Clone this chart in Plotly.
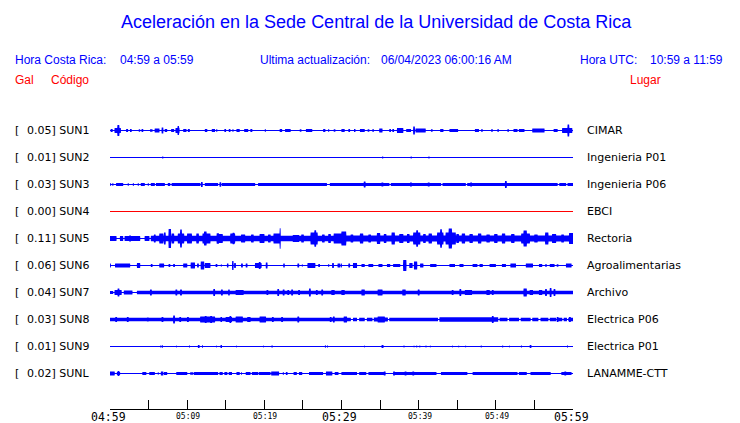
import numpy as np
import plotly.graph_objects as go

# ---------------- data ----------------
STATIONS = ["SUN1", "SUN2", "SUN3", "SUN4", "SUN5", "SUN6", "SUN7", "SUN8", "SUN9", "SUNL"]
PEAK_GAL = ["0.05", "0.01", "0.03", "0.00", "0.11", "0.06", "0.04", "0.03", "0.01", "0.02"]
PLACES = ["CIMAR", "Ingenieria P01", "Ingenieria P06", "EBCI", "Rectoria",
          "Agroalimentarias", "Archivo", "Electrica P06", "Electrica P01", "LANAMME-CTT"]
TICK_MINUTES = [0, 10, 20, 30, 40, 50, 60]
TICK_LABELS = ["04:59", "05:09", "05:19", "05:29", "05:39", "05:49", "05:59"]
MAJOR_LABEL = [True, False, False, True, False, False, True]
MINUTE_TICKS = [0, 5, 10, 15, 20, 25, 30, 35, 40, 45, 50, 55, 60]

# trace envelopes: baseline half-amplitude and (start min, end min, half-amplitude) bursts
BASE = [0.5, 0.5, 0.5, 0.5, 0.5, 0.5, 0.5, 0.5, 0.5, 0.5]

SUN1 = [(0.1,0.35,1.5),(0.6,1.4,2.5),(0.95,1.2,5.5),(2.1,2.35,1.5),(2.6,2.8,1.5),(3.7,3.9,1.2),
        (4.1,4.3,1.5),(5.2,5.5,1.2),(5.8,6.4,2),(6.7,6.9,3),(7.1,7.4,1.5),(7.9,8.3,1.5),(8.5,9.0,2.5),
        (8.75,8.95,4.5),(9.5,9.9,1.5),(10.1,10.35,1.5),(12.3,12.6,1.5),(13.2,13.6,1.5),(13.75,13.9,1.2),
        (14.8,15.05,1.5),(15.4,15.6,1.5),(15.85,16.0,1.2),(16.4,16.8,1.5),(17.4,17.9,1.5),(18.2,18.45,1.5),
        (20.05,20.2,1.2),(22.0,22.3,1.5),(22.7,23.4,1.5),(24.6,24.8,1.2),(25.4,26.2,1.5),(27.6,27.9,1.5),
        (28.25,28.4,1.2),(29.0,29.2,1.2),(30.0,30.4,1.5),(30.9,31.1,1.5),(31.6,31.8,1.5),(32.4,33.0,1.5),
        (33.4,33.6,1.2),(34.0,34.2,1.2),(34.9,35.3,2),(36.2,36.4,1.5),(36.6,36.8,1.5),(37.2,38.0,2.5),
        (38.4,39.0,1.5),(39.3,39.5,4),(39.6,40.9,2),(41.6,41.8,1.2),(42.8,43.2,1.5),(44.0,45.1,1.5),
        (47.3,47.8,1.5),(48.1,48.3,1.2),(49.4,49.6,1.2),(50.2,50.4,1.2),(51.5,51.7,1.2),(52.3,52.8,1.5),
        (53.0,53.7,1.5),(54.7,56.3,2),(57.5,58.0,1.5),(58.6,59.9,2.5),(59.3,59.5,6)]
SUN2 = [(6.75,6.9,1),(35.25,35.4,1),(38.95,39.1,1),(41.25,41.4,1)]
SUN3 = [(0.0,0.15,1.2),(0.3,0.45,1.2),(0.8,1.7,1.5),(2.3,2.45,1.2),(2.95,3.1,1.2),(3.6,3.75,1.2),
        (4.0,4.5,1.5),(4.9,5.05,1.2),(5.3,5.8,1.5),(5.95,7.1,1.5),(7.5,7.8,1.5),(8.0,11.7,1.5),
        (11.8,12.0,2.5),(12.3,14.0,1.5),(14.2,14.4,2.2),(14.5,18.8,1.5),(19.2,28.1,1.5),(28.5,36.2,1.5),
        (32.9,33.1,3),(35.2,35.4,2),(36.4,42.9,1.5),(38.9,39.1,2),(41.2,41.4,2),(43.1,46.1,1.5),
        (46.3,58.0,1.5),(46.7,46.9,2),(51.2,51.4,3.5),(58.2,59.1,1.5),(59.3,60.0,1.5)]
SUN4 = []
SUN5 = [(0.0,0.85,2.4),(1.3,1.7,2.4),(1.9,3.9,2.4),(4.5,5.1,2.4),(5.3,30.0,2.7),(30.0,60.0,3.1),
        (2.5,2.7,3),(5.7,5.9,4),(6.4,6.9,5),(7.0,7.2,6),(7.6,7.9,9.5),(8.0,8.3,5),(8.8,9.6,5),(9.1,9.3,9),
        (10.0,10.6,5),(11.2,11.5,5),(12.0,13.0,5),(12.2,12.5,7),(13.8,14.1,5.3),(14.0,14.6,4.5),
        (15.6,16.2,5),(15.9,16.1,5.7),(17.0,17.5,4),(18.3,18.6,4),(19.4,20.0,4.5),(20.5,20.8,4),
        (21.2,22.0,5),(22.0,22.1,10.3),(23.7,24.5,3.5),(24.8,25.1,4),(26.0,26.9,6),(26.5,26.7,8.3),
        (27.5,27.8,4),(28.3,28.6,4.5),(29.0,30.0,5),(30.0,30.6,7),(31.2,31.5,4),(32.4,32.8,5),
        (33.5,33.8,4),(34.6,35.0,5.5),(35.5,35.8,4.5),(36.5,36.9,6),(37.5,38.0,4.5),(38.5,38.8,4.5),
        (39.3,40.2,6),(39.7,39.9,8.3),(40.6,40.9,4.5),(41.3,41.7,5),(42.4,43.2,6),(42.8,43.0,9.2),
        (43.5,44.8,6),(43.9,44.3,10),(44.9,45.2,4.5),(45.6,46.0,5),(46.6,47.0,4.5),(47.7,48.1,5),
        (48.8,49.2,4),(49.8,50.2,4.5),(50.8,51.2,5),(52.0,52.4,4.5),(53.3,54.4,5),(53.6,54.0,8),
        (55.0,55.4,4),(56.4,56.8,6),(57.3,57.8,4.5),(58.5,58.8,4),(59.5,60.0,5.5)]
SUN6 = [(0.0,0.1,2),(0.65,2.6,2),(3.5,3.9,2.5),(5.3,5.5,1.5),(6.4,7.0,2),(7.6,7.8,1.5),(8.2,8.4,1.5),
        (9.5,10.0,2),(10.45,11.0,3),(11.3,11.5,2),(11.75,12.2,4),(12.3,13.0,2.5),(13.7,13.9,1.5),
        (14.35,14.5,1),(15.15,15.35,2),(15.8,16.0,4.5),(16.1,16.3,2.5),(17.0,17.2,2),(17.6,17.8,2),
        (18.8,19.65,2.5),(19.3,19.5,3.5),(20.2,20.4,3),(22.45,22.65,2),(24.3,24.5,2),(24.85,25.0,1),
        (25.6,26.6,2.5),(27.0,27.2,1.5),(28.25,28.4,1.2),(28.8,29.0,2.5),(29.5,29.8,2),(29.9,30.05,2),
        (30.9,31.1,2),(31.5,32.0,2.5),(32.6,33.0,1.5),(33.5,34.1,1.5),(34.8,35.3,1.5),(35.9,36.3,1.5),
        (36.7,37.6,1.5),(38.0,38.4,5.5),(38.8,39.2,2.5),(39.4,39.8,4),(40.2,40.6,2),(41.5,42.3,1.5),
        (44.0,44.7,1.5),(45.3,45.8,1.5),(47.0,47.6,1.5),(47.9,48.3,1.5),(49.2,50.0,1.5),(50.8,51.3,1.5),
        (51.9,52.6,2),(53.9,54.8,2),(55.6,56.0,1.5),(56.4,56.6,1.2),(57.0,57.6,1.5),(57.9,58.1,1.2),
        (59.1,59.8,2)]
SUN7 = [(0.0,0.4,1.5),(0.6,1.5,2.5),(1.0,1.2,4),(1.8,2.9,2),(3.5,60.0,1.8),(5.2,5.4,3),(8.5,8.7,3),
        (9.1,9.3,3),(13.4,13.6,3.5),(14.4,14.6,3),(15.3,15.5,3),(16.3,17.3,2.5),(20.3,20.5,2.5),
        (21.7,21.9,3.5),(22.4,22.6,3),(23.0,23.2,2.5),(23.5,23.7,3),(24.4,24.6,2.5),(25.8,26.0,4),
        (26.7,26.9,2.5),(27.4,27.6,3),(28.7,29.1,2.5),(30.0,30.4,2.5),(32.6,33.0,3),(34.7,35.3,3),
        (37.9,38.3,3),(39.9,40.1,3),(44.3,44.5,2.5),(45.3,45.5,3.5),(46.0,46.9,2.5),(48.8,49.2,2.5),
        (49.5,49.7,2.5),(53.6,54.0,4),(54.4,54.8,2.5),(55.6,56.0,2.5),(56.4,56.6,3.5),(57.0,57.2,4.5),
        (57.5,57.7,3.5)]
SUN8 = [(0.0,30.0,1.7),(0.7,0.9,2.5),(2.2,2.4,2.5),(4.8,5.0,2),(6.7,6.9,2.5),(8.2,8.4,4),(9.0,9.2,2.5),
        (10.0,10.2,2.5),(11.7,13.6,3),(12.3,12.5,3.5),(13.0,13.2,3.5),(14.3,14.5,2.5),(15.0,15.8,2.5),
        (15.5,15.7,3.5),(16.3,17.2,3),(17.8,18.2,2.5),(19.4,20.2,3),(21.0,21.2,2.5),(22.2,22.4,2.5),
        (24.3,24.5,3),(28.5,28.7,2.5),(28.9,29.1,3),(30.0,31.2,1.8),(30.3,30.7,3),(31.5,32.0,1.8),
        (32.3,33.0,1.8),(33.3,34.0,1.8),(34.2,36.0,2),(34.7,35.6,3),(36.2,42.5,1.8),(42.7,50.3,2.3),
        (49.5,49.7,3.5),(50.5,51.5,1.8),(51.7,53.0,1.8),(53.2,54.5,1.8),(54.7,55.5,1.8),(55.8,56.8,1.8),
        (57.0,57.8,1.8),(57.9,58.1,2.5),(58.0,58.6,1.8),(58.8,59.2,1.8),(59.4,60.0,1.8),(59.5,59.7,2.5)]
SUN9 = [(6.55,6.65,1.5),(6.75,6.85,1.5),(8.55,8.65,1),(10.25,10.35,1.2),(11.4,11.6,1.5),(11.95,12.05,1.5),
        (13.75,13.85,1),(14.3,14.5,1.5),(16.35,16.45,1),(19.85,19.95,1),(20.95,21.05,1.5),(27.85,27.95,1.5),
        (28.15,28.25,1.2),(32.95,33.05,1),(35.2,35.45,1.5),(38.05,38.15,1.2),(39.35,39.45,1),(39.7,39.8,1),
        (40.1,40.2,1),(40.9,41.0,1),(41.45,41.55,1),(44.35,44.45,1),(45.15,45.25,1),(46.05,46.15,1),
        (48.05,48.15,1.2),(50.85,50.95,1.2),(51.75,51.85,1),(53.25,53.35,1.2),(54.4,54.6,1.5),
        (59.25,59.35,1.2)]
SUNL = [(0.0,0.6,2),(0.9,1.3,1.5),(1.0,1.2,2.5),(4.2,4.7,1.5),(5.1,5.8,1.5),(6.2,6.3,1.2),(6.6,6.9,2),
        (7.0,7.4,1.5),(8.6,10.0,1.5),(10.4,10.8,1.2),(10.9,14.0,1.5),(14.2,14.6,1.5),(14.8,15.2,1.5),
        (15.4,15.8,1.5),(16.4,16.8,1.5),(17.0,17.1,1.2),(17.6,18.2,1.5),(18.4,19.2,1.5),(19.3,20.8,1.5),
        (20.9,21.9,2),(22.4,22.55,1.2),(22.8,23.0,1.5),(23.8,24.2,1.5),(24.5,24.9,1.5),(25.8,27.6,1.5),
        (28.0,28.8,2),(29.1,29.6,1.5),(30.0,32.0,1.5),(32.3,33.2,1.5),(33.5,35.6,1.5),(35.5,35.7,2),
        (36.7,42.3,1.5),(36.7,36.9,2),(38.2,38.4,2),(39.2,39.4,2),(42.9,46.3,1.5),(47.0,52.8,1.5),
        (53.0,54.0,1.5),(54.5,57.1,1.5),(58.5,59.8,1.5),(58.9,59.1,2)]
BURSTS = [SUN1, SUN2, SUN3, SUN4, SUN5, SUN6, SUN7, SUN8, SUN9, SUNL]

# ---------------- layout geometry (pixels) ----------------
W, H = 740, 423
L, R, T, B = 110, 573, 117, 409
PW, PH = R - L, B - T
ROW0, ROW_STEP = 130.5, 27
BLUE, RED = "#0000ff", "#ff0000"
TRACE_COLORS = [BLUE, BLUE, BLUE, RED, BLUE, BLUE, BLUE, BLUE, BLUE, BLUE]


def px(x, y):
    return (x - L) / PW, (B - y) / PH


fig = go.Figure()
t = np.linspace(0, 60, 1801)
for i, name in enumerate(STATIONS):
    c = B - (ROW0 + ROW_STEP * i)
    # thin baseline
    fig.add_trace(go.Scatter(x=[0, 60], y=[c, c], mode="lines",
                             line=dict(color=TRACE_COLORS[i], width=1),
                             hoverinfo="skip", showlegend=False))
    if not BURSTS[i]:
        continue
    env = np.full_like(t, BASE[i])
    for a, b, amp in BURSTS[i]:
        m = (t >= a) & (t <= b)
        env[m] = np.maximum(env[m], amp)
    env = np.where(env > BASE[i], env, 0.0)
    xs = np.concatenate([t, t[::-1]])
    ys = np.concatenate([c + env, (c - env)[::-1]])
    fig.add_trace(go.Scatter(x=xs, y=ys, mode="none", fill="toself",
                             fillcolor=TRACE_COLORS[i],
                             hoverinfo="skip", showlegend=False, name=name))

ann = []


def text(x, y, s, size, color, family, anchor="left"):
    xp, yp = px(x, y)
    ann.append(dict(x=xp, y=yp, xref="paper", yref="paper", text=s, showarrow=False,
                    xanchor=anchor, yanchor="middle", borderpad=0,
                    font=dict(size=size, color=color, family=family)))


SANS = "Liberation Sans, Arial, sans-serif"
DV = "DejaVu Sans, sans-serif"
MONO = "DejaVu Sans Mono, monospace"

text(376, 22, "Aceleración en la Sede Central de la Universidad de Costa Rica", 18, BLUE, SANS, "center")
text(14, 60, "Hora Costa Rica:", 12, BLUE, SANS)
text(119, 60, "04:59 a 05:59", 12, BLUE, SANS)
text(259, 60, "Ultima actualización:", 12, BLUE, SANS)
text(380, 60, "06/04/2023 06:00:16 AM", 12, BLUE, SANS)
text(579, 60, "Hora UTC:", 12, BLUE, SANS)
text(649, 60, "10:59 a 11:59", 12, BLUE, SANS)
text(14, 80, "Gal", 12, RED, SANS)
text(50, 80, "Código", 12, RED, SANS)
text(629, 80, "Lugar", 12, RED, SANS)

for i, name in enumerate(STATIONS):
    y = ROW0 - 0.5 + ROW_STEP * i
    text(14, y, "[", 11, "black", DV)
    text(26, y, PEAK_GAL[i] + "]\u00a0" + name, 11, "black", DV)
    text(586, y, PLACES[i], 11, "black", DV)

for m, lab, big in zip(TICK_MINUTES, TICK_LABELS, MAJOR_LABEL):
    x = L + PW * m / 60
    text(x - 2 if big else x + 1, 416.5, lab, 11.5 if big else 8, "black", MONO, "center")

fig.update_layout(
    width=W, height=H, margin=dict(l=L, r=W - R, t=T, b=H - B),
    paper_bgcolor="white", plot_bgcolor="white", showlegend=False,
    hovermode=False, annotations=ann,
    xaxis=dict(range=[0, 60], tickvals=MINUTE_TICKS, ticks="inside", ticklen=9,
               tickcolor="black", tickwidth=1, showticklabels=False, showgrid=False,
               zeroline=False, showline=True, linecolor="black", linewidth=1, fixedrange=True),
    yaxis=dict(range=[0, PH], visible=False, showgrid=False, zeroline=False, fixedrange=True),
)
fig.write_html("out.html", config={"displayModeBar": False},
               post_script="document.body.style.margin='0';")
